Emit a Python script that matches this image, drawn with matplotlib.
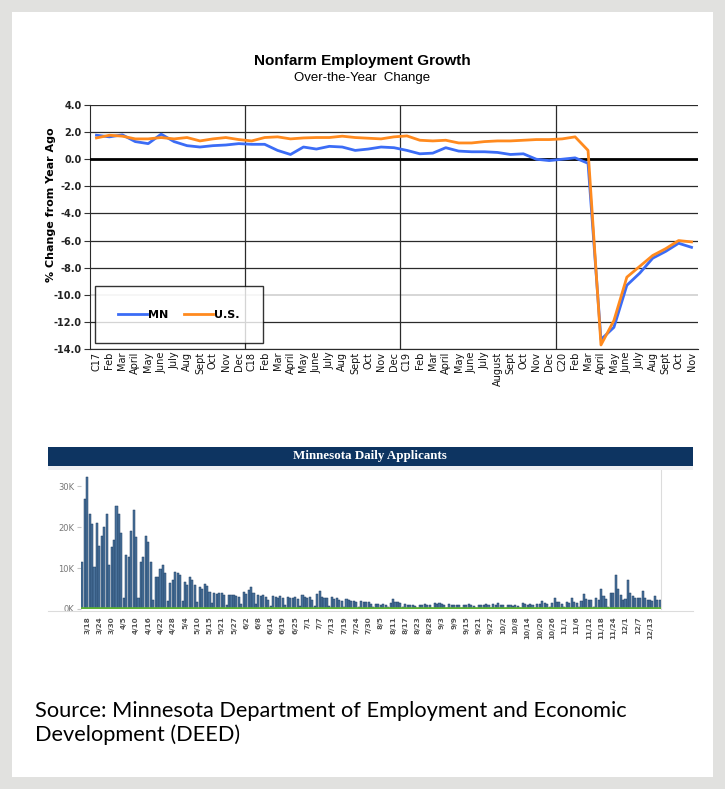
import matplotlib
matplotlib.use("Agg")
import matplotlib.pyplot as plt
from matplotlib.patches import Rectangle
from matplotlib.lines import Line2D

W, H = 725, 789

# ── top chart: nonfarm employment, over-the-year % change (Jan 2017 – Nov 2020)
months = ["C17", "Feb", "Mar", "April", "May", "June", "July", "Aug", "Sept", "Oct", "Nov", "Dec",
          "C18", "Feb", "Mar", "April", "May", "June", "July", "Aug", "Sept", "Oct", "Nov", "Dec",
          "C19", "Feb", "Mar", "April", "May", "June", "July", "August", "Sept", "Oct", "Nov", "Dec",
          "C20", "Feb", "Mar", "April", "May", "June", "July", "Aug", "Sept", "Oct", "Nov"]
mn = [1.77, 1.65, 1.80, 1.30, 1.15, 1.85, 1.30, 1.00, 0.90, 1.00, 1.05, 1.15,
      1.10, 1.10, 0.65, 0.35, 0.90, 0.75, 0.95, 0.90, 0.65, 0.75, 0.90, 0.85,
      0.65, 0.40, 0.45, 0.85, 0.60, 0.55, 0.55, 0.50, 0.35, 0.40, 0.00, -0.10,
      0.00, 0.10, -0.30, -13.3, -12.4, -9.3, -8.4, -7.3, -6.8, -6.2, -6.5]
us = [1.57, 1.77, 1.70, 1.50, 1.50, 1.60, 1.50, 1.60, 1.35, 1.50, 1.60, 1.45,
      1.35, 1.60, 1.65, 1.50, 1.57, 1.60, 1.60, 1.70, 1.60, 1.55, 1.50, 1.65,
      1.72, 1.40, 1.35, 1.40, 1.20, 1.20, 1.30, 1.35, 1.35, 1.40, 1.45, 1.45,
      1.50, 1.65, 0.65, -13.7, -11.9, -8.7, -7.9, -7.1, -6.6, -6.0, -6.1]
yticks_top = [4, 2, 0, -2, -4, -6, -8, -10, -12, -14]

# ── bottom chart: Minnesota daily applicants, thousands (Sun–Fri bars from 3/16)
applicants = [
    11.6, 26.8, 32.4, 23.2, 20.7, 10.2,
    21.0, 15.3, 17.9, 20.1, 23.2, 10.7,
    15.2, 16.9, 25.2, 23.2, 18.5, 2.8,
    13.3, 12.8, 19.2, 24.2, 17.5, 2.8,
    11.5, 12.8, 17.9, 16.5, 11.5, 2.1,
    7.9, 7.9, 9.9, 10.7, 8.7, 1.9,
    6.4, 7.2, 9.1, 8.8, 8.2, 1.9,
    6.6, 5.8, 7.9, 7.1, 5.8, 1.7,
    5.3, 4.9, 6.1, 5.6, 4.2, 1.5,
    3.8, 3.6, 3.9, 4.0, 3.4, 0.9,
    3.4, 3.4, 3.4, 3.3, 2.9, 1.2,
    4.2, 3.7, 4.6, 5.3, 3.8, 1.2,
    3.5, 3.3, 3.5, 3.0, 2.3, 0.8,
    3.3, 3.0, 2.8, 3.2, 2.6, 0.9,
    3.0, 2.7, 2.6, 2.9, 2.4, 0.8,
    3.4, 2.9, 2.8, 2.9, 2.2, 0.7,
    3.6, 4.3, 3.0, 2.7, 2.6, 0.7,
    2.9, 2.4, 2.6, 2.3, 2.0, 0.6,
    2.4, 2.2, 1.9, 2.0, 1.7, 0.5,
    1.9, 1.8, 1.6, 1.7, 1.3, 0.4,
    1.3, 1.2, 1.0, 1.3, 1.1, 0.4,
    1.5, 2.4, 1.8, 1.6, 1.4, 0.4,
    1.2, 1.0, 0.9, 1.1, 0.8, 0.3,
    1.1, 1.0, 1.3, 1.1, 0.9, 0.3,
    1.5, 1.3, 1.4, 1.2, 1.0, 0.3,
    1.3, 1.1, 1.0, 1.0, 0.9, 0.3,
    1.1, 1.0, 1.3, 0.9, 0.8, 0.3,
    1.0, 1.1, 1.0, 1.2, 0.9, 0.3,
    1.3, 1.0, 1.4, 1.0, 0.9, 0.3,
    1.0, 0.9, 0.8, 0.9, 0.8, 0.3,
    1.4, 1.2, 1.1, 1.2, 1.0, 0.3,
    1.2, 1.3, 2.0, 1.4, 1.3, 0.4,
    1.5, 2.6, 1.8, 1.6, 1.3, 0.4,
    1.7, 1.5, 2.6, 1.6, 1.4, 0.4,
    2.0, 3.6, 2.4, 2.2, 2.1, 0.5,
    2.6, 2.3, 4.8, 3.2, 2.5, 0.6,
    3.8, 3.9, 8.2, 4.8, 3.4, 2.3,
    2.4, 7.0, 3.8, 3.3, 2.6, 2.6,
    2.6, 4.3, 2.8, 2.2, 2.2, 2.0,
    3.3, 2.2, 2.1,
]
day_labels = ["3/18", "3/24", "3/30", "4/5", "4/10", "4/16", "4/22", "4/28", "5/4", "5/10",
              "5/15", "5/21", "5/27", "6/2", "6/8", "6/14", "6/19", "6/25", "7/1", "7/7",
              "7/13", "7/19", "7/24", "7/30", "8/5", "8/11", "8/17", "8/23", "8/28", "9/3",
              "9/9", "9/15", "9/21", "9/27", "10/2", "10/8", "10/14", "10/20", "10/26", "11/1",
              "11/6", "11/12", "11/18", "11/24", "12/1", "12/7", "12/13"]
yticks_bot = [0, 10, 20, 30]

BLUE, ORANGE = "#3b6cf6", "#ff8a1e"
NAVY = "#0d3461"


def fx(px):
    return px / W


def fy(py):
    return 1 - py / H


fig = plt.figure(figsize=(W / 100, H / 100), dpi=100)
fig.patch.set_facecolor("#e1e1df")
fig.patches.append(Rectangle((fx(12), fy(777)), fx(701), 765 / H, transform=fig.transFigure,
                             facecolor="white", edgecolor="none", zorder=-10))

# ─────────────────────────────────────────────────────────────
ax = fig.add_axes([fx(90), fy(349), fx(608), 244 / H])
ax.patch.set_alpha(0)
x = range(len(months))
ax.plot(x, mn, color=BLUE, lw=2.0, label="MN", zorder=4)
ax.plot(x, us, color=ORANGE, lw=2.0, label="U.S.", zorder=5)
ax.set_xlim(-0.5, len(months) - 0.5)
ax.set_ylim(-14, 4)
for v in yticks_top:
    if v == 0:
        ax.axhline(v, color="black", lw=2.0, zorder=3)
    elif v == -10:
        ax.axhline(v, color="#d0d0d0", lw=1.2, zorder=1)
    else:
        ax.axhline(v, color="#2b2b2b", lw=0.9, zorder=1)
for b in (11.5, 23.5, 35.5):
    ax.axvline(b, color="#2b2b2b", lw=0.9, zorder=1)
ax.set_yticks(yticks_top)
ax.set_yticklabels([f"{v:.1f}" for v in yticks_top], fontsize=7, fontweight="bold", color="#222")
ax.set_xticks(list(x))
ax.set_xticklabels(months, rotation=90, fontsize=7, color="#111")
ax.tick_params(axis="y", length=4, width=0.8, color="#333", pad=2)
ax.tick_params(axis="x", length=0, pad=2)
for s in ("top", "right"):
    ax.spines[s].set_visible(False)
ax.spines["left"].set_color("#2b2b2b")
ax.spines["bottom"].set_color("#2b2b2b")
ax.set_ylabel("% Change from Year Ago", fontsize=8, fontweight="bold")
ax.yaxis.set_label_coords(-0.056, 0.59)
leg = ax.legend(loc="lower left", bbox_to_anchor=(0.008, 0.025), ncol=2, frameon=True,
                fancybox=False, edgecolor="black", borderpad=2.1, handlelength=2.6,
                handletextpad=0.1, columnspacing=1.4, borderaxespad=0,
                prop={"size": 8, "weight": "bold"})
leg.get_frame().set_linewidth(1.0)

fig.text(fx(362), fy(61), "Nonfarm Employment Growth", ha="center", va="center",
         fontsize=11, fontweight="bold", family="Liberation Sans")
fig.text(fx(362), fy(78), "Over-the-Year  Change", ha="center", va="center",
         fontsize=9.5, family="Liberation Sans")

# ─────────────────────────────────────────────────────────────
fig.patches.append(Rectangle((fx(48), fy(466)), fx(645), 19 / H, transform=fig.transFigure,
                             facecolor=NAVY, edgecolor="none", zorder=1))
fig.patches.append(Rectangle((fx(48), fy(470)), fx(645), 4 / H, transform=fig.transFigure,
                             facecolor="#eef0f3", edgecolor="none", zorder=1))
fig.text(fx(370), fy(456.5), "Minnesota Daily Applicants", ha="center", va="center",
         fontsize=9.4, fontweight="bold", color="white", family="Liberation Serif")

bx = fig.add_axes([fx(81), fy(609), fx(580), 139 / H])
bx.patch.set_alpha(0)
bx.bar(range(len(applicants)), applicants, width=0.85, color="#4a729b",
       edgecolor="#1d3d62", linewidth=0.35, zorder=2)
bx.set_xlim(-0.5, len(applicants) - 0.5)
bx.set_ylim(0, 34)
bx.axhline(0, color="#5db233", lw=2.6, zorder=3)
bx.set_yticks(yticks_bot)
bx.set_yticklabels([f"{v}K" for v in yticks_bot], fontsize=6, color="#777")
bx.set_xticks([2 + 5 * j for j in range(len(day_labels))])
bx.set_xticklabels(day_labels, rotation=90, fontsize=5.2, fontweight="bold", color="#555")
bx.tick_params(axis="y", length=3, color="#c8c8c8", pad=2)
bx.tick_params(axis="x", length=0, pad=5)
for s in ("top", "left", "bottom"):
    bx.spines[s].set_visible(False)
bx.spines["right"].set_color("#dcdcdc")
fig.lines.append(Line2D([fx(48), fx(693)], [fy(611), fy(611)], transform=fig.transFigure,
                        color="#dcdcdc", lw=0.8))

# ─────────────────────────────────────────────────────────────
fig.text(fx(35), fy(723), "Source: Minnesota Department of Employment and Economic\nDevelopment (DEED)",
         ha="left", va="center", fontsize=15.7, family="Lato", linespacing=1.22)

fig.savefig("out.png", dpi=100, facecolor=fig.get_facecolor())
